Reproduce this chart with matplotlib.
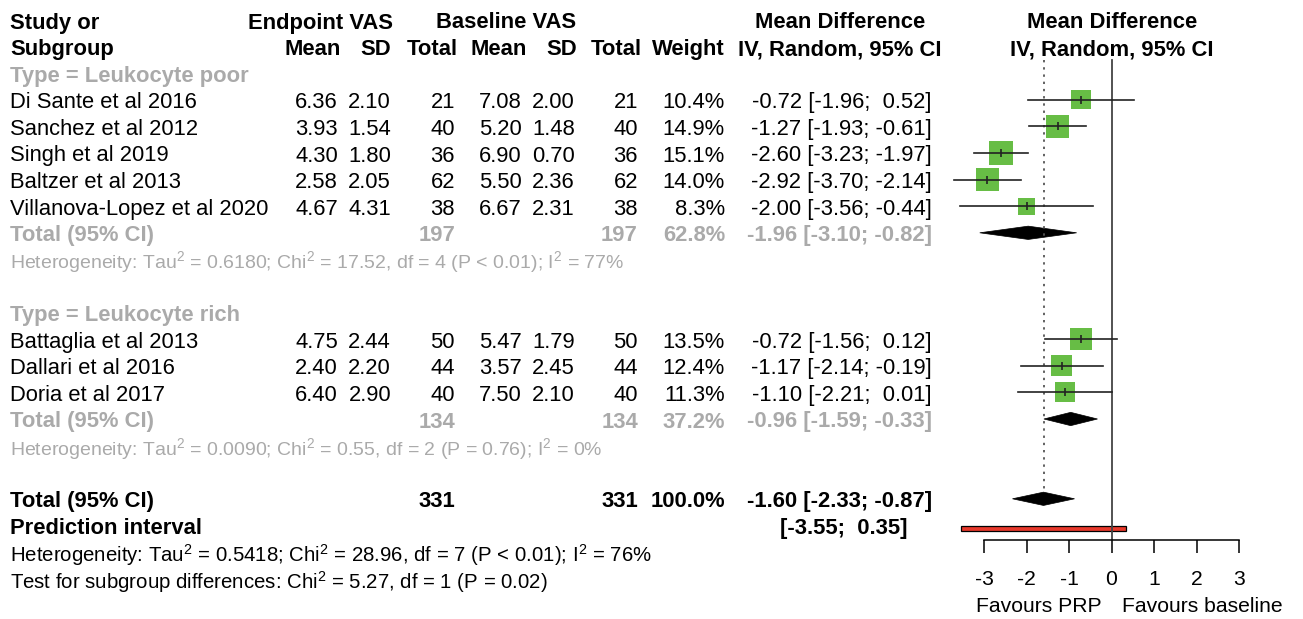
import numpy as np
import matplotlib.pyplot as plt
from matplotlib.patches import Polygon, Rectangle

plt.rcParams['font.family'] = ['Liberation Sans', 'DejaVu Sans']
plt.rcParams['mathtext.default'] = 'regular'

# study data
studies = ['Di Sante et al 2016', 'Sanchez et al 2012', 'Singh et al 2019',
           'Baltzer et al 2013', 'Villanova-Lopez et al 2020',
           'Battaglia et al 2013', 'Dallari et al 2016', 'Doria et al 2017']
end_mean = [6.36, 3.93, 4.30, 2.58, 4.67, 4.75, 2.40, 6.40]
end_sd = [2.10, 1.54, 1.80, 2.05, 4.31, 2.44, 2.20, 2.90]
end_n = [21, 40, 36, 62, 38, 50, 44, 40]
base_mean = [7.08, 5.20, 6.90, 5.50, 6.67, 5.47, 3.57, 7.50]
base_sd = [2.00, 1.48, 0.70, 2.36, 2.31, 1.79, 2.45, 2.10]
base_n = [21, 40, 36, 62, 38, 50, 44, 40]
weight = [10.4, 14.9, 15.1, 14.0, 8.3, 13.5, 12.4, 11.3]
md = [-0.72, -1.27, -2.60, -2.92, -2.00, -0.72, -1.17, -1.10]
md_lo = [-1.96, -1.93, -3.23, -3.70, -3.56, -1.56, -2.14, -2.21]
md_hi = [0.52, -0.61, -1.97, -2.14, -0.44, 0.12, -0.19, 0.01]

# subgroup pooled results
sub_names = ['Type = Leukocyte poor', 'Type = Leukocyte rich']
sub_n = [197, 134]
sub_w = [62.8, 37.2]
sub_md = [-1.96, -0.96]
sub_lo = [-3.10, -1.59]
sub_hi = [-0.82, -0.33]
sub_het = ['Heterogeneity: Tau$^2$ = 0.6180; Chi$^2$ = 17.52, df = 4 (P < 0.01); I$^2$ = 77%',
           'Heterogeneity: Tau$^2$ = 0.0090; Chi$^2$ = 0.55, df = 2 (P = 0.76); I$^2$ = 0%']

tot_n = 331
tot_md, tot_lo, tot_hi = -1.60, -2.33, -0.87
pred_lo, pred_hi = -3.55, 0.35
tot_het = 'Heterogeneity: Tau$^2$ = 0.5418; Chi$^2$ = 28.96, df = 7 (P < 0.01); I$^2$ = 76%'
sub_test = 'Test for subgroup differences: Chi$^2$ = 5.27, df = 1 (P = 0.02)'

xticks = [-3, -2, -1, 0, 1, 2, 3]

# row layout
study_rows = [3, 4, 5, 6, 7, 12, 13, 14]
sub_head_rows = [2, 11]
sub_tot_rows = [8, 15]
sub_het_rows = [9, 16]
tot_row, pred_row = 18, 19

W, H = 1303, 619
fig = plt.figure(figsize=(W / 100, H / 100), dpi=100)

# text layer in pixel coordinates
ax_t = fig.add_axes([0, 0, 1, 1])
ax_t.set_xlim(0, W)
ax_t.set_ylim(H, 0)
ax_t.axis('off')

fs = 15.8
hfs = 14.0
bfs = 14.7
gray = '#aaaaaa'


def ry(r):
    return 23 + 26.6 * r


def txt(x, r, s, ha='right', color='black', bold=False, size=fs):
    ax_t.text(x, ry(r), s, ha=ha, va='center', color=color, fontsize=size,
              fontweight='bold' if bold else 'normal')


cols = [338, 391, 455, 522, 575, 638, 725, 932]

# headers
txt(10, 0, 'Study or', ha='left', bold=True)
txt(10, 1, 'Subgroup', ha='left', bold=True)
txt(320, 0, 'Endpoint VAS', ha='center', bold=True)
txt(506, 0, 'Baseline VAS', ha='center', bold=True)
for x, s in zip([341, 391, 458, 527, 577, 642, 725],
                ['Mean', 'SD', 'Total', 'Mean', 'SD', 'Total', 'Weight']):
    txt(x, 1, s, bold=True)
txt(840, 0, 'Mean Difference', ha='center', bold=True)
txt(840, 1, 'IV, Random, 95% CI', ha='center', bold=True)
txt(1112, 0, 'Mean Difference', ha='center', bold=True)
txt(1112, 1, 'IV, Random, 95% CI', ha='center', bold=True)


def ci_str(m, lo, hi):
    return '%.2f [%s; %s]' % (m, '%5.2f' % lo, '%5.2f' % hi)


for i, r in enumerate(study_rows):
    txt(10, r, studies[i], ha='left')
    vals = ['%.2f' % end_mean[i], '%.2f' % end_sd[i], str(end_n[i]),
            '%.2f' % base_mean[i], '%.2f' % base_sd[i], str(base_n[i]),
            '%.1f%%' % weight[i], ci_str(md[i], md_lo[i], md_hi[i])]
    for x, s in zip(cols, vals):
        txt(x, r, s)

for g in range(2):
    txt(10, sub_head_rows[g], sub_names[g], ha='left', color=gray, bold=True)
    r = sub_tot_rows[g]
    txt(10, r, 'Total (95% CI)', ha='left', color=gray, bold=True)
    txt(cols[2], r, str(sub_n[g]), color=gray, bold=True)
    txt(cols[5], r, str(sub_n[g]), color=gray, bold=True)
    txt(cols[6], r, '%.1f%%' % sub_w[g], color=gray, bold=True)
    txt(cols[7], r, ci_str(sub_md[g], sub_lo[g], sub_hi[g]), color=gray, bold=True)
    txt(10, sub_het_rows[g], sub_het[g], ha='left', color=gray, size=hfs)

txt(10, tot_row, 'Total (95% CI)', ha='left', bold=True)
txt(cols[2], tot_row, str(tot_n), bold=True)
txt(cols[5], tot_row, str(tot_n), bold=True)
txt(cols[6], tot_row, '100.0%', bold=True)
txt(cols[7], tot_row, ci_str(tot_md, tot_lo, tot_hi), bold=True)
txt(10, pred_row, 'Prediction interval', ha='left', bold=True)
txt(907, pred_row, '[%5.2f; %5.2f]' % (pred_lo, pred_hi), bold=True)
txt(10, 20, tot_het, ha='left', size=bfs)
txt(10, 21, sub_test, ha='left', size=bfs)

ax_t.text(1039, 606, 'Favours PRP', ha='center', va='center', fontsize=15.2)
ax_t.text(1202, 606, 'Favours baseline', ha='center', va='center', fontsize=15.2)

# forest panel
x0_px, x1_px, zero_px, unit_px, axis_px = 940, 1290, 1111.5, 42.5, 540
ax = fig.add_axes([x0_px / W, (H - axis_px) / H, (x1_px - x0_px) / W, axis_px / H])
ax.set_xlim((x0_px - zero_px) / unit_px, (x1_px - zero_px) / unit_px)
ax.set_ylim((axis_px - 20) / 26.6, -20 / 26.6)
ax.patch.set_alpha(0)
for s in ['left', 'right', 'top']:
    ax.spines[s].set_visible(False)
ax.spines['bottom'].set_bounds(-3, 3)
ax.spines['bottom'].set_linewidth(1.1)
ax.set_yticks([])
ax.set_xticks(xticks)
ax.set_xticklabels([str(t) for t in xticks])
ax.tick_params(axis='x', length=9.4, width=1.1, labelsize=15.2, pad=12.5)

top_r = (60 - 20) / 26.6
ax.plot([0, 0], [top_r, (axis_px - 20) / 26.6], color='#444444', lw=1.3, clip_on=False)
ax.plot([tot_md, tot_md], [top_r, tot_row - 0.25], color='#555555', lw=1.3,
        ls=(0, (1.3, 2.7)))

side_px = 6.0 * np.sqrt(np.array(weight))
ax.scatter(md, study_rows, marker='s', s=(side_px * 0.72) ** 2, color='#67bd45',
           edgecolors='none', zorder=2)
for i, r in enumerate(study_rows):
    ax.plot([md_lo[i], md_hi[i]], [r, r], color='#222222', lw=1.2, zorder=3)
ax.scatter(md, study_rows, marker='|', s=40, color='#222222', linewidths=1.2, zorder=4)


def diamond(m, lo, hi, r, h=0.25):
    ax.add_patch(Polygon([[lo, r], [m, r - h], [hi, r], [m, r + h]],
                         closed=True, facecolor='black', edgecolor='black', lw=0.5))


for g in range(2):
    diamond(sub_md[g], sub_lo[g], sub_hi[g], sub_tot_rows[g])
diamond(tot_md, tot_lo, tot_hi, tot_row)
ax.add_patch(Rectangle((pred_lo, pred_row + 0.02), pred_hi - pred_lo, 0.18,
                       facecolor='#e8392b', edgecolor='black', lw=0.9))

fig.savefig('out.png', dpi=100)
